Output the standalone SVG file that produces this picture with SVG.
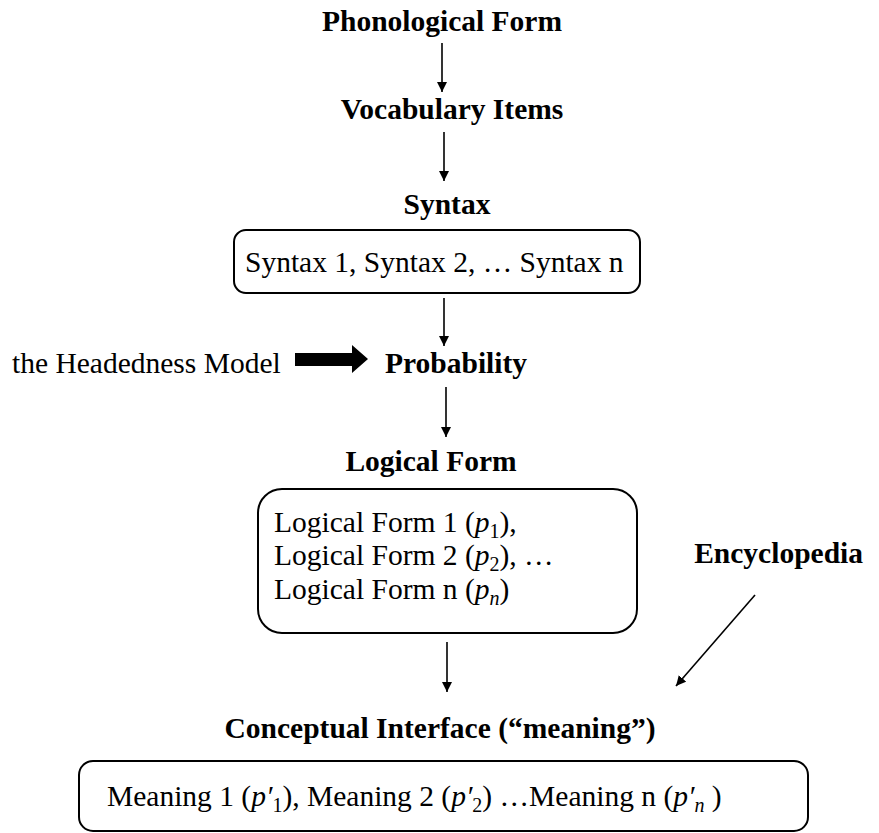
<svg xmlns="http://www.w3.org/2000/svg" width="879" height="833" viewBox="0 0 879 833">
<style>
text{font-family:"Liberation Serif","Times New Roman",serif;font-size:29.5px;fill:#000}
.b{font-weight:bold}
.m{text-anchor:middle}
.i{font-style:italic}
.s{font-size:20px}
.box{fill:none;stroke:#000;stroke-width:2}
.c{stroke:#000;stroke-width:1.6;fill:none;marker-end:url(#ah)}
</style>
<defs>
<marker id="ah" viewBox="0 0 10 10" refX="10" refY="5" markerWidth="10" markerHeight="10" markerUnits="userSpaceOnUse" orient="auto">
<path d="M0,0 L10,5 L0,10 z" fill="#000"/>
</marker>
</defs>
<rect width="879" height="833" fill="#fff"/>
<g id="connectors">
<line class="c" x1="442" y1="43" x2="442" y2="92"/>
<line class="c" x1="444" y1="132" x2="444" y2="181"/>
<line class="c" x1="444" y1="298" x2="444" y2="346"/>
<line class="c" x1="446" y1="387" x2="446" y2="437"/>
<line class="c" x1="447" y1="642" x2="447" y2="692"/>
<line class="c" x1="755" y1="595" x2="676" y2="686"/>
<path d="M295,353 L352,353 L352,345 L368,359 L352,373 L352,366 L295,366 z" fill="#000"/>
</g>
<g id="phonological"><text class="b m" x="442" y="31">Phonological Form</text></g>
<g id="vocabulary"><text class="b m" x="452" y="119">Vocabulary Items</text></g>
<g id="syntax">
<text class="b m" x="447" y="214">Syntax</text>
<rect class="box" x="234" y="230" width="406" height="63" rx="12"/>
<text x="245" y="272">Syntax 1, Syntax 2, … Syntax n</text>
</g>
<g id="headedness"><text x="12" y="373">the Headedness Model</text></g>
<g id="probability"><text class="b" x="385" y="373">Probability</text></g>
<g id="logical">
<text class="b m" x="431" y="471">Logical Form</text>
<rect class="box" x="258" y="489" width="379" height="144" rx="24"/>
<text x="274" y="532">Logical Form 1 (<tspan class="i">p</tspan><tspan class="s" dy="6">1</tspan><tspan dy="-6">),</tspan></text>
<text x="274" y="565">Logical Form 2 (<tspan class="i">p</tspan><tspan class="s" dy="6">2</tspan><tspan dy="-6">), …</tspan></text>
<text x="274" y="599">Logical Form n (<tspan class="i">p</tspan><tspan class="s i" dy="6">n</tspan><tspan dy="-6">)</tspan></text>
</g>
<g id="encyclopedia"><text class="b" x="863" y="563" text-anchor="end">Encyclopedia</text></g>
<g id="conceptual">
<text class="b m" x="440" y="738">Conceptual Interface (“meaning”)</text>
<rect class="box" x="79" y="761" width="729" height="70" rx="14"/>
<text x="107" y="806">Meaning 1 (<tspan class="i">p′</tspan><tspan class="s" dy="6">1</tspan><tspan dy="-6">), Meaning 2 (</tspan><tspan class="i">p′</tspan><tspan class="s" dy="6">2</tspan><tspan dy="-6">) …Meaning n (</tspan><tspan class="i">p′</tspan><tspan class="s i" dy="6">n</tspan><tspan dy="-6"> )</tspan></text>
</g>
</svg>
